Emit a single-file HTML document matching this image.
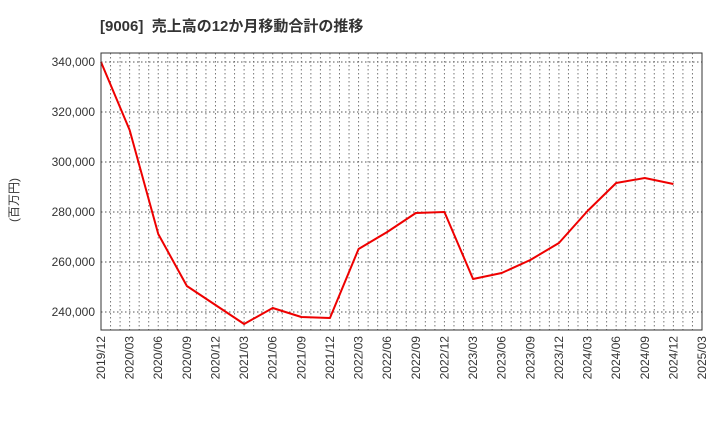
<!DOCTYPE html>
<html><head><meta charset="utf-8"><style>
body{margin:0;background:#fff;font-family:"Liberation Sans","Noto Sans CJK JP",sans-serif;}
</style></head><body>
<svg id="chart" width="720" height="440" xmlns="http://www.w3.org/2000/svg" style="font-family:'Liberation Sans','Noto Sans CJK JP',sans-serif">
<text x="100" y="31" font-size="15" font-weight="bold" fill="#333" xml:space="preserve">[9006]  売上高の12か月移動合計の推移</text>
<text transform="translate(18,200) rotate(-90)" text-anchor="middle" font-size="12" fill="#333">(百万円)</text>
<g id="grid"></g><g id="axes"></g><g id="series"></g>
<rect x="101" y="53" width="601" height="277" fill="none" stroke="#333" stroke-width="1"/>
</svg>
<script>
const categories=["2019/12","2020/03","2020/06","2020/09","2020/12","2021/03","2021/06","2021/09","2021/12","2022/03","2022/06","2022/09","2022/12","2023/03","2023/06","2023/09","2023/12","2024/03","2024/06","2024/09","2024/12","2025/03"];
const salesValues=[340000,312800,271200,250400,242800,235200,241600,238000,237600,265200,272000,279600,280000,253200,255600,260800,267600,280400,291600,293600,291200];
const yTicks=[240000,260000,280000,300000,320000,340000];
const NS="http://www.w3.org/2000/svg";
const L=101,R=702,T=53,B=330,yMin=232800,yMax=343600;
const xS=i=>L+(R-L)*i/(categories.length-1);
const yS=v=>B-(B-T)*(v-yMin)/(yMax-yMin);
function mk(tag,attrs,parent){const e=document.createElementNS(NS,tag);for(const k in attrs)e.setAttribute(k,attrs[k]);parent.appendChild(e);return e;}
const grid=document.getElementById('grid'),axes=document.getElementById('axes'),series=document.getElementById('series');
for(let m=1;m<(categories.length-1)*3;m++){const x=L+(R-L)*m/((categories.length-1)*3);
const g=mk('line',{x1:x,x2:x,y1:T,y2:B,stroke:'#777','stroke-dasharray':'1.5,2.5'},grid);

}
yTicks.forEach(v=>{const y=yS(v);
const g=mk('line',{x1:L,x2:R,y1:y,y2:y,stroke:'#555','stroke-dasharray':'1.5,2.5'},grid);


const t=mk('text',{x:L-6,y:y+4,'text-anchor':'end','font-size':12,fill:'#333'},axes);


t.textContent=v.toLocaleString('en-US');});
categories.forEach((c,i)=>{const x=xS(i);
const t=mk('text',{transform:`translate(${x+4},${B+6}) rotate(-90)`,'text-anchor':'end','font-size':12,fill:'#333'},axes);


t.textContent=c;});
const p=mk('polyline',{points:salesValues.map((v,i)=>xS(i)+','+yS(v)).join(' '),fill:'none',stroke:'#e00','stroke-width':2,'stroke-linejoin':'round'},series);


</script>
</body></html>
